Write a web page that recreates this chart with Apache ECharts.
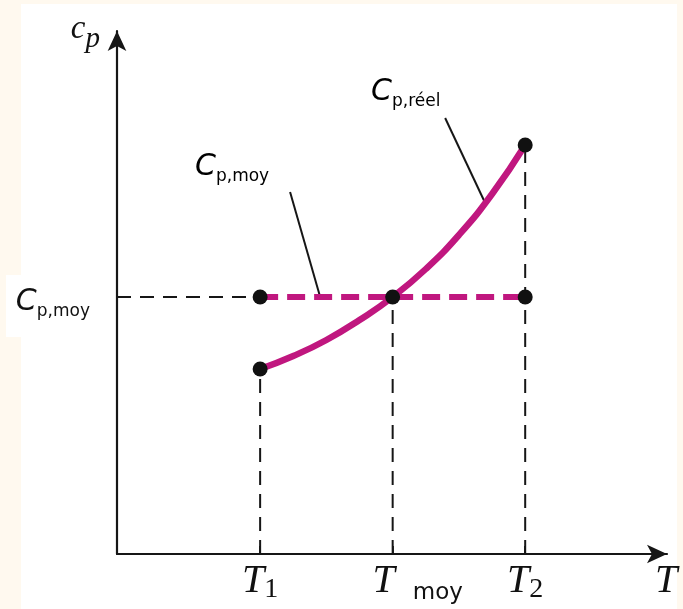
<!DOCTYPE html>
<html>
<head>
<meta charset="utf-8">
<script src="https://cdn.jsdelivr.net/npm/echarts@6/dist/echarts.min.js"></script>
<style>
  html, body { margin: 0; padding: 0; background: #fff9ef; }
  #chart { width: 683px; height: 609px; }
</style>
</head>
<body>
<div id="chart"></div>
<script>
// Temperatures marked on the horizontal axis
const tempKeys = ['T1', 'Tmoy', 'T2'];
const tempValues = [300, 400, 500];

// Specific heat values
const cpAtT1 = 1.85;
const cpMoy = 2.57;
const cpAtT2 = 4.09;

// Real cp(T) curve, sampled along its length
const curveT = [300, 325, 350, 375, 400, 425, 450, 475, 500];
const curveCp = [1.85, 1.98, 2.14, 2.34, 2.57, 2.85, 3.19, 3.60, 4.09];

// Leader lines joining the annotations to the lines they name
const leaderMoy = [[322.6, 3.62], [345.3, 2.57]];
const leaderReel = [[439.6, 4.36], [469.8, 3.51]];

// Axis extents
const xRange = [192, 607];
const yRange = [0, 5.23];

const magenta = '#c0177f';
const ink = '#161616';
const serif = '"Liberation Serif", "DejaVu Serif", serif';
const sans = '"DejaVu Sans", "Open Sans", sans-serif';

const T1 = tempValues[0], Tmoy = tempValues[1], T2 = tempValues[2];

function guide(points) {
  return {
    type: 'line', data: points, symbol: 'none', silent: true, z: 2,
    lineStyle: { color: ink, width: 2, type: [14, 9] }
  };
}
function leader(points) {
  return {
    type: 'line', data: points, symbol: 'none', silent: true, z: 2,
    lineStyle: { color: ink, width: 2 }
  };
}

// Rich styles for the "C p,xxx" annotations
const cRich = {
  c: { fontFamily: sans, fontStyle: 'italic', fontSize: 30, lineHeight: 30, verticalAlign: 'top', color: '#111' },
  s: { fontFamily: sans, fontSize: 17, lineHeight: 18, verticalAlign: 'top', padding: [16, 0, 0, 0], color: '#111' }
};

// Rich styles for the temperature labels
const tRich = {
  t: { fontFamily: serif, fontStyle: 'italic', fontSize: 40, lineHeight: 40, verticalAlign: 'top', color: '#111' },
  n: { fontFamily: serif, fontSize: 28, lineHeight: 28, verticalAlign: 'top', padding: [15, 0, 0, 0], color: '#111' },
  pad: { width: 56, lineHeight: 40, verticalAlign: 'top' },
  m: { fontFamily: sans, fontSize: 23, lineHeight: 23, verticalAlign: 'top', width: 62, align: 'left', padding: [21, 0, 0, 12], color: '#111' }
};
const tLabelText = {
  T1: '{t|T}{n|1}',
  Tmoy: '{pad|}{t|T}{m|moy}',
  T2: '{t|T}{n|2}'
};

const chart = echarts.init(document.getElementById('chart'));

chart.setOption({
  backgroundColor: '#fff9ef',
  animation: false,
  grid: { left: 117, right: 16, top: 31, bottom: 55, containLabel: false, outerBoundsMode: 'none' },
  graphic: [
    { type: 'rect', z: -10, shape: { x: 21, y: 4, width: 656, height: 605 }, style: { fill: '#ffffff' }, silent: true },
    { type: 'rect', z: -10, shape: { x: 6, y: 275, width: 100, height: 62 }, style: { fill: '#ffffff' }, silent: true },
    {
      type: 'text', x: 195, y: 152, silent: true,
      style: { text: '{c|C}{s|p,moy}', rich: cRich, align: 'left', verticalAlign: 'top', textAlign: 'left', textVerticalAlign: 'top' }
    },
    {
      type: 'text', x: 371, y: 77, silent: true,
      style: { text: '{c|C}{s|p,réel}', rich: cRich, align: 'left', verticalAlign: 'top', textAlign: 'left', textVerticalAlign: 'top' }
    }
  ],
  xAxis: {
    type: 'value', min: xRange[0], max: xRange[1],
    splitLine: { show: false },
    axisLine: { show: true, symbol: ['none', 'arrow'], symbolSize: [14, 20], lineStyle: { color: ink, width: 2.2 } },
    axisTick: { show: true, inside: true, length: 8, customValues: tempValues, lineStyle: { color: ink, width: 1.8 } },
    axisLabel: {
      show: true, customValues: tempValues, margin: 7,
      formatter: function (v) { return tLabelText[tempKeys[tempValues.indexOf(v)]] || ''; },
      rich: tRich
    },
    name: 'T', nameLocation: 'end', nameGap: -1,
    nameTextStyle: { fontFamily: serif, fontStyle: 'italic', fontSize: 40, lineHeight: 40, color: '#111', align: 'center', verticalAlign: 'top', padding: [7, 0, 0, 0] }
  },
  yAxis: {
    type: 'value', min: yRange[0], max: yRange[1],
    splitLine: { show: false },
    axisLine: { show: true, symbol: ['none', 'arrow'], symbolSize: [14, 20], lineStyle: { color: ink, width: 2.2 } },
    axisTick: { show: false },
    axisLabel: {
      show: true, customValues: [cpMoy], margin: 27, padding: [10, 0, 0, 0],
      formatter: function () { return '{c|C}{s|p,moy}'; },
      rich: cRich
    },
    name: '{c|c}{p|p}', nameLocation: 'end', nameGap: 18,
    nameTextStyle: {
      align: 'right', verticalAlign: 'top', padding: [0, 17, 0, 0],
      rich: {
        c: { fontFamily: serif, fontStyle: 'italic', fontSize: 33, lineHeight: 32, verticalAlign: 'top', color: '#111' },
        p: { fontFamily: serif, fontStyle: 'italic', fontSize: 29, lineHeight: 28, verticalAlign: 'top', padding: [12, 0, 0, 0], color: '#111' }
      }
    }
  },
  series: [
    // black dashed guide lines
    guide([[xRange[0], cpMoy], [T1, cpMoy]]),
    guide([[T1, yRange[0]], [T1, cpAtT1]]),
    guide([[Tmoy, yRange[0]], [Tmoy, cpMoy]]),
    guide([[T2, yRange[0]], [T2, cpAtT2]]),
    // leader lines
    leader(leaderMoy),
    leader(leaderReel),
    // average cp, dashed
    {
      type: 'line', data: [[T1, cpMoy], [T2, cpMoy]], symbol: 'none', z: 3,
      lineStyle: { color: magenta, width: 6, type: [18, 9] }
    },
    // real cp(T)
    {
      type: 'line', data: curveT.map(function (t, i) { return [t, curveCp[i]]; }),
      symbol: 'none', smooth: true, z: 4,
      lineStyle: { color: magenta, width: 6.5 }
    },
    // key points
    {
      type: 'scatter', symbolSize: 15, z: 5,
      itemStyle: { color: '#111111', opacity: 1 },
      data: [[T1, cpAtT1], [T1, cpMoy], [Tmoy, cpMoy], [T2, cpMoy], [T2, cpAtT2]]
    }
  ]
});
</script>
</body>
</html>
